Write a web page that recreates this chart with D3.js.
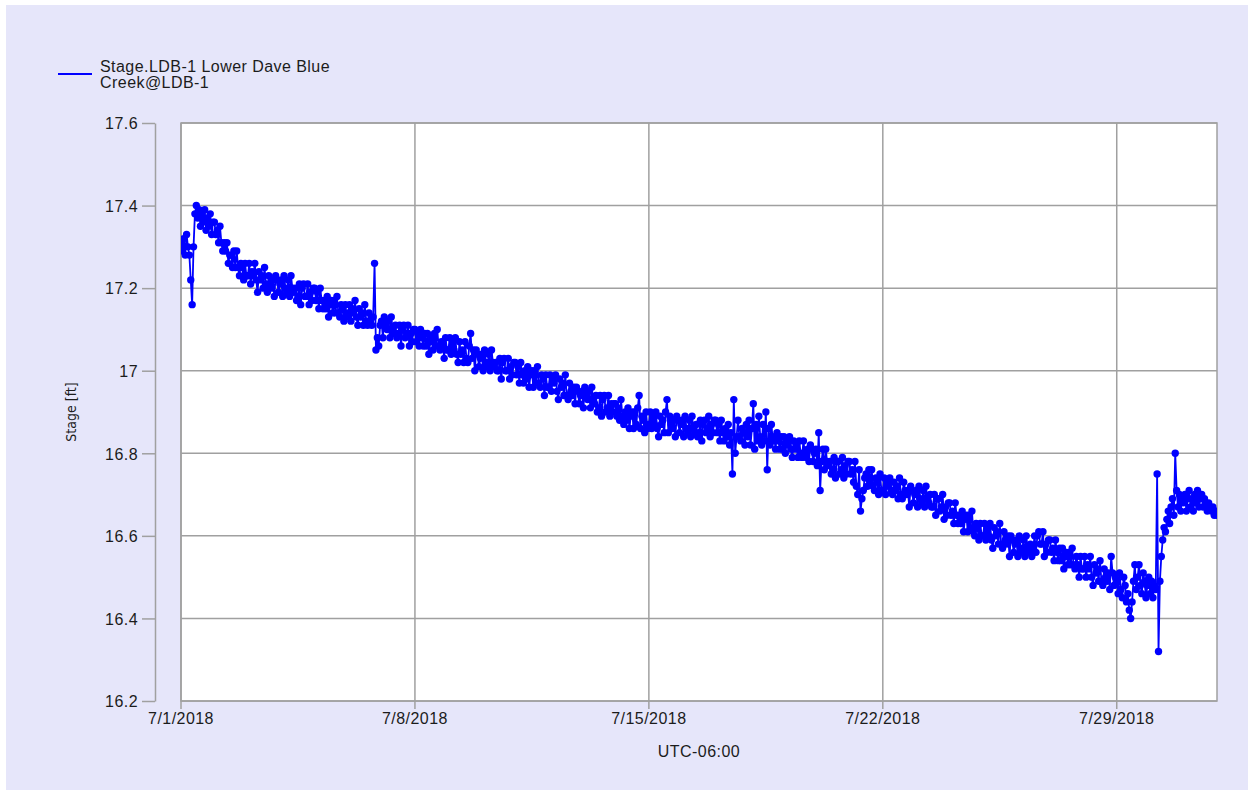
<!DOCTYPE html>
<html>
<head>
<meta charset="utf-8">
<script src="https://cdn.jsdelivr.net/npm/d3@7"></script>
<style>
  html, body { margin: 0; padding: 0; background: #ffffff; }
  svg text { font-family: "Liberation Sans", Arial, sans-serif; fill: #1c1c1c; letter-spacing: 0.45px; }
</style>
</head>
<body>
<svg id="chart" width="1254" height="791"></svg>
<script>
// Hourly stage readings from 7/1/2018 00:00 (UTC-06:00), one row per day
const startTime = new Date(2018, 6, 1, 0, 0);
const stepHours = 1;

const week1 = [
  17.31, 17.29, 17.32, 17.28, 17.33, 17.30, 17.28, 17.22, 17.16, 17.30, 17.38, 17.40, 17.37, 17.39, 17.35, 17.38, 17.36, 17.39, 17.34, 17.37, 17.35, 17.38, 17.33, 17.36,
  17.36, 17.33, 17.34, 17.31, 17.35, 17.31, 17.29, 17.31, 17.29, 17.31, 17.26, 17.28, 17.28, 17.25, 17.29, 17.25, 17.29, 17.25, 17.23, 17.26, 17.25, 17.22, 17.26, 17.23,
  17.23, 17.26, 17.21, 17.24, 17.23, 17.26, 17.22, 17.19, 17.24, 17.22, 17.23, 17.20, 17.25, 17.21, 17.19, 17.23, 17.21, 17.20, 17.22, 17.18, 17.23, 17.22, 17.19, 17.21,
  17.22, 17.18, 17.23, 17.20, 17.19, 17.22, 17.18, 17.23, 17.20, 17.19, 17.20, 17.17, 17.18, 17.21, 17.16, 17.20, 17.21, 17.18, 17.18, 17.21, 17.16, 17.19, 17.17, 17.20,
  17.20, 17.17, 17.19, 17.15, 17.20, 17.17, 17.15, 17.17, 17.15, 17.18, 17.13, 17.16, 17.17, 17.14, 17.17, 17.14, 17.18, 17.14, 17.13, 17.16, 17.15, 17.12, 17.16, 17.13,
  17.14, 17.16, 17.12, 17.15, 17.14, 17.17, 17.13, 17.11, 17.15, 17.13, 17.14, 17.11, 17.16, 17.12, 17.11, 17.14, 17.12, 17.11, 17.13, 17.26, 17.05, 17.08, 17.06, 17.11,
  17.12, 17.08, 17.13, 17.11, 17.10, 17.12, 17.08, 17.13, 17.10, 17.09, 17.11, 17.08, 17.09, 17.11, 17.06, 17.10, 17.11, 17.08, 17.09, 17.11, 17.06, 17.09, 17.07, 17.10
];
const week2 = [
  17.10, 17.07, 17.09, 17.06, 17.10, 17.08, 17.06, 17.09, 17.06, 17.09, 17.04, 17.07, 17.08, 17.05, 17.09, 17.06, 17.10, 17.06, 17.05, 17.07, 17.06, 17.03, 17.08, 17.05,
  17.05, 17.08, 17.04, 17.07, 17.05, 17.08, 17.04, 17.02, 17.07, 17.04, 17.05, 17.02, 17.07, 17.03, 17.02, 17.06, 17.09, 17.03, 17.05, 17.00, 17.05, 17.04, 17.01, 17.03,
  17.04, 17.00, 17.05, 17.02, 17.01, 17.04, 17.00, 17.05, 17.02, 17.01, 17.02, 17.00, 17.00, 17.03, 16.98, 17.02, 17.03, 17.00, 17.00, 17.03, 16.98, 17.01, 16.99, 17.02,
  17.02, 16.99, 17.01, 16.97, 17.02, 16.99, 16.97, 17.00, 16.98, 17.01, 16.96, 16.99, 17.00, 16.96, 17.00, 16.97, 17.01, 16.97, 16.96, 16.99, 16.98, 16.94, 16.99, 16.96,
  16.96, 16.99, 16.95, 16.98, 16.97, 16.99, 16.95, 16.93, 16.98, 16.96, 16.97, 16.94, 16.99, 16.94, 16.93, 16.97, 16.95, 16.94, 16.96, 16.92, 16.96, 16.95, 16.92, 16.94,
  16.95, 16.91, 16.96, 16.94, 16.93, 16.95, 16.91, 16.96, 16.93, 16.92, 16.94, 16.90, 16.91, 16.94, 16.89, 16.93, 16.94, 16.90, 16.91, 16.94, 16.89, 16.92, 16.90, 16.92,
  16.92, 16.89, 16.91, 16.88, 16.93, 16.89, 16.87, 16.90, 16.88, 16.91, 16.86, 16.89, 16.90, 16.86, 16.90, 16.87, 16.91, 16.94, 16.86, 16.89, 16.88, 16.85, 16.90, 16.86
];
const week3 = [
  16.87, 16.90, 16.86, 16.89, 16.87, 16.90, 16.86, 16.84, 16.89, 16.87, 16.88, 16.85, 16.90, 16.93, 16.85, 16.89, 16.87, 16.86, 16.88, 16.84, 16.89, 16.88, 16.85, 16.87,
  16.88, 16.84, 16.89, 16.86, 16.85, 16.88, 16.84, 16.89, 16.86, 16.85, 16.87, 16.84, 16.85, 16.88, 16.83, 16.87, 16.88, 16.85, 16.86, 16.89, 16.84, 16.87, 16.85, 16.88,
  16.88, 16.85, 16.87, 16.83, 16.88, 16.85, 16.83, 16.86, 16.84, 16.87, 16.82, 16.85, 16.75, 16.93, 16.80, 16.84, 16.88, 16.84, 16.83, 16.86, 16.85, 16.82, 16.87, 16.84,
  16.88, 16.82, 16.86, 16.92, 16.81, 16.87, 16.83, 16.89, 16.84, 16.82, 16.87, 16.83, 16.90, 16.76, 16.86, 16.82, 16.87, 16.83, 16.84, 16.81, 16.85, 16.83, 16.81, 16.84,
  16.81, 16.84, 16.80, 16.83, 16.82, 16.84, 16.81, 16.79, 16.83, 16.81, 16.82, 16.79, 16.83, 16.80, 16.79, 16.83, 16.80, 16.79, 16.81, 16.78, 16.82, 16.81, 16.78, 16.80,
  16.81, 16.77, 16.85, 16.71, 16.78, 16.81, 16.76, 16.81, 16.78, 16.77, 16.78, 16.75, 16.76, 16.79, 16.74, 16.78, 16.78, 16.75, 16.76, 16.79, 16.74, 16.77, 16.75, 16.78,
  16.78, 16.75, 16.76, 16.73, 16.78, 16.72, 16.70, 16.76, 16.66, 16.69, 16.71, 16.74, 16.75, 16.72, 16.76, 16.73, 16.76, 16.72, 16.71, 16.74, 16.73, 16.70, 16.75, 16.71
];
const week4 = [
  16.71, 16.74, 16.70, 16.73, 16.72, 16.74, 16.71, 16.70, 16.73, 16.71, 16.72, 16.69, 16.74, 16.70, 16.69, 16.73, 16.71, 16.70, 16.71, 16.67, 16.72, 16.71, 16.68, 16.70,
  16.71, 16.67, 16.72, 16.69, 16.68, 16.71, 16.67, 16.72, 16.69, 16.68, 16.70, 16.67, 16.67, 16.70, 16.65, 16.69, 16.69, 16.66, 16.67, 16.70, 16.64, 16.67, 16.65, 16.68,
  16.68, 16.65, 16.66, 16.63, 16.68, 16.65, 16.63, 16.65, 16.63, 16.66, 16.61, 16.64, 16.65, 16.61, 16.65, 16.62, 16.66, 16.61, 16.60, 16.63, 16.62, 16.59, 16.63, 16.60,
  16.60, 16.63, 16.59, 16.62, 16.60, 16.63, 16.59, 16.57, 16.62, 16.60, 16.61, 16.58, 16.63, 16.58, 16.57, 16.61, 16.59, 16.58, 16.60, 16.55, 16.60, 16.59, 16.56, 16.58,
  16.59, 16.55, 16.60, 16.57, 16.56, 16.59, 16.55, 16.60, 16.57, 16.56, 16.58, 16.55, 16.57, 16.60, 16.56, 16.60, 16.61, 16.58, 16.58, 16.61, 16.55, 16.58, 16.56, 16.59,
  16.59, 16.56, 16.57, 16.54, 16.59, 16.56, 16.54, 16.57, 16.54, 16.57, 16.52, 16.55, 16.56, 16.53, 16.56, 16.53, 16.57, 16.53, 16.52, 16.55, 16.53, 16.50, 16.55, 16.52,
  16.52, 16.55, 16.50, 16.53, 16.52, 16.55, 16.50, 16.48, 16.53, 16.51, 16.52, 16.49, 16.54, 16.49, 16.48, 16.52, 16.50, 16.49, 16.51, 16.47, 16.55, 16.51, 16.48, 16.50
];
const week5 = [
  16.49, 16.46, 16.51, 16.47, 16.45, 16.50, 16.48, 16.44, 16.46, 16.42, 16.40, 16.44, 16.49, 16.53, 16.47, 16.50, 16.53, 16.48, 16.46, 16.51, 16.49, 16.45, 16.48, 16.50,
  16.46, 16.49, 16.45, 16.48, 16.47, 16.75, 16.32, 16.49, 16.55, 16.59, 16.62, 16.61, 16.64, 16.66, 16.63, 16.67, 16.69, 16.65, 16.80, 16.71, 16.67, 16.70, 16.66, 16.69,
  16.68, 16.70, 16.66, 16.69, 16.71, 16.67, 16.69, 16.66, 16.70, 16.68, 16.71, 16.67, 16.69, 16.70, 16.67, 16.69, 16.68, 16.66, 16.68, 16.67, 16.66, 16.67, 16.65, 16.66,
  16.65
];

const yTicks = [16.2, 16.4, 16.6, 16.8, 17, 17.2, 17.4, 17.6];
const xTickDates = [new Date(2018, 6, 1), new Date(2018, 6, 8), new Date(2018, 6, 15), new Date(2018, 6, 22), new Date(2018, 6, 29)];
const xTickLabels = ["7/1/2018", "7/8/2018", "7/15/2018", "7/22/2018", "7/29/2018"];
const seriesName = ["Stage.LDB-1 Lower Dave Blue", "Creek@LDB-1"];

const stage = [...week1, ...week2, ...week3, ...week4, ...week5];
const points = stage.map((v, i) => ({ t: d3.timeHour.offset(startTime, i * stepHours), v }));

const W = 1254, H = 791;
const plot = { left: 181, right: 1217, top: 123, bottom: 701 };
const gridColor = "#a0a0a0";
const blue = "#0000ff";

const svg = d3.select("#chart");

// lavender panel
svg.append("rect")
  .attr("x", 6).attr("y", 5)
  .attr("width", W - 12).attr("height", H - 6)
  .attr("fill", "#e6e6fa");

const x = d3.scaleTime()
  .domain([startTime, new Date(2018, 7, 1)])
  .range([plot.left, plot.right]);
const y = d3.scaleLinear()
  .domain([16.2, 17.6])
  .range([plot.bottom, plot.top]);

// plot background
svg.append("rect")
  .attr("x", plot.left).attr("y", plot.top)
  .attr("width", plot.right - plot.left).attr("height", plot.bottom - plot.top)
  .attr("fill", "#ffffff");

// grid
svg.append("g")
  .selectAll("line")
  .data(yTicks)
  .join("line")
  .attr("x1", plot.left).attr("x2", plot.right)
  .attr("y1", d => y(d)).attr("y2", d => y(d))
  .attr("stroke", gridColor).attr("stroke-width", 1.5);

svg.append("g")
  .selectAll("line")
  .data(xTickDates)
  .join("line")
  .attr("x1", d => x(d)).attr("x2", d => x(d))
  .attr("y1", plot.top).attr("y2", plot.bottom + 8)
  .attr("stroke", gridColor).attr("stroke-width", 1.5);

// plot border
svg.append("rect")
  .attr("x", plot.left).attr("y", plot.top)
  .attr("width", plot.right - plot.left).attr("height", plot.bottom - plot.top)
  .attr("fill", "none")
  .attr("stroke", gridColor).attr("stroke-width", 1.5);

// detached y axis
const yAxis = d3.axisLeft(y)
  .tickValues(yTicks)
  .tickFormat(d3.format("~g"))
  .tickSizeInner(13)
  .tickSizeOuter(0)
  .tickPadding(4);

const yAxisG = svg.append("g")
  .attr("transform", "translate(155,0)")
  .call(yAxis);
yAxisG.select(".domain").attr("stroke", gridColor).attr("stroke-width", 1.5);
yAxisG.selectAll(".tick line").attr("stroke", gridColor).attr("stroke-width", 1.5);
yAxisG.selectAll(".tick text")
  .attr("font-size", 16)
  .attr("dy", "0.36em")
  .style("font-family", "'Liberation Sans', Arial, sans-serif")
  .attr("fill", "#1c1c1c");

// x tick labels
svg.append("g")
  .selectAll("text")
  .data(xTickDates)
  .join("text")
  .attr("x", d => x(d))
  .attr("y", 724)
  .attr("text-anchor", "middle")
  .attr("font-size", 16)
  .text((d, i) => xTickLabels[i]);

svg.append("text")
  .attr("x", (plot.left + plot.right) / 2)
  .attr("y", 757)
  .attr("text-anchor", "middle")
  .attr("font-size", 16)
  .text("UTC-06:00");

svg.append("text")
  .attr("transform", "translate(76,412) rotate(-90)")
  .attr("text-anchor", "middle")
  .attr("font-size", 14)
  .style("letter-spacing", "0px")
  .style("font-family", "'Liberation Sans Narrow', 'DejaVu Sans Condensed', sans-serif")
  .text("Stage [ft]");

// legend
svg.append("line")
  .attr("x1", 58).attr("x2", 92)
  .attr("y1", 74).attr("y2", 74)
  .attr("stroke", blue).attr("stroke-width", 2);

svg.append("text")
  .attr("x", 100).attr("y", 72)
  .attr("font-size", 16)
  .selectAll("tspan")
  .data(seriesName)
  .join("tspan")
  .attr("x", 100)
  .attr("dy", (d, i) => i === 0 ? 0 : 15.5)
  .text(d => d);

// series
svg.append("clipPath").attr("id", "clip")
  .append("rect")
  .attr("x", plot.left).attr("y", plot.top)
  .attr("width", plot.right - plot.left).attr("height", plot.bottom - plot.top);

const series = svg.append("g").attr("clip-path", "url(#clip)");

const line = d3.line()
  .x(d => x(d.t))
  .y(d => y(d.v));

series.append("path")
  .datum(points)
  .attr("d", line)
  .attr("fill", "none")
  .attr("stroke", blue)
  .attr("stroke-width", 1.8);

series.append("g")
  .selectAll("circle")
  .data(points)
  .join("circle")
  .attr("cx", d => x(d.t))
  .attr("cy", d => y(d.v))
  .attr("r", 3.7)
  .attr("fill", blue);
</script>
</body>
</html>
